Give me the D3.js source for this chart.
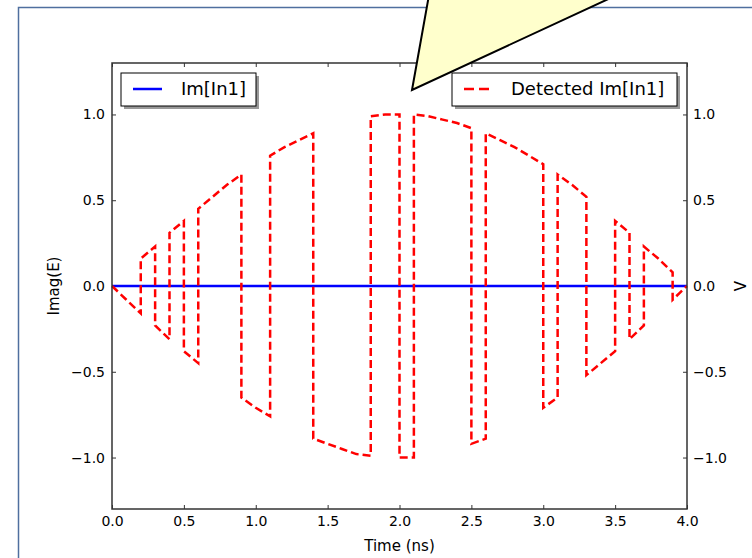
<!DOCTYPE html>
<html>
<head>
<meta charset="utf-8">
<script src="https://cdn.jsdelivr.net/npm/d3@7"></script>
<style>
  body { margin: 0; background: #fff; }
  .chart text { font-family: "DejaVu Sans", sans-serif; fill: #000; }
</style>
</head>
<body>
<div class="chart"></div>
<script>
// data
const xTicks = [0, 0.5, 1, 1.5, 2, 2.5, 3, 3.5, 4]
const yTicks = [-1, -0.5, 0, 0.5, 1]

const imTime = [0, 4]
const imValue = [0, 0]

// detected signal, the vertical jumps are repeated times
const detTime = [0, 0.1, 0.2, 0.2, 0.3, 0.3, 0.4, 0.4, 0.5, 0.5, 0.6, 0.6, 0.7, 0.8, 0.9, 0.9,
  1.0, 1.1, 1.1, 1.2, 1.3, 1.4, 1.4, 1.5, 1.6, 1.7, 1.8, 1.8, 1.9, 2.0, 2.0, 2.1, 2.1,
  2.2, 2.3, 2.4, 2.5, 2.5, 2.6, 2.6, 2.7, 2.8, 2.9, 3.0, 3.0, 3.1, 3.1, 3.2, 3.3, 3.3,
  3.4, 3.5, 3.5, 3.6, 3.6, 3.7, 3.7, 3.8, 3.9, 3.9, 4.0]
const detValue = [0, -0.08, -0.16, 0.16, 0.23, -0.23, -0.31, 0.31, 0.38, -0.38, -0.45, 0.45, 0.52, 0.59, 0.65, -0.65,
  -0.71, -0.76, 0.76, 0.81, 0.85, 0.89, -0.89, -0.92, -0.95, -0.98, -0.99, 0.99, 1.0, 1.0, -1.0, -1.0, 1.0,
  0.99, 0.97, 0.95, 0.92, -0.92, -0.89, 0.89, 0.85, 0.81, 0.76, 0.71, -0.71, -0.65, 0.65, 0.59, 0.52, -0.52,
  -0.45, -0.38, 0.38, 0.31, -0.31, -0.23, 0.23, 0.16, 0.08, -0.08, 0]

const margin = {top: 63, right: 65, bottom: 49, left: 112}
const W = 752, H = 558
const width = W - margin.left - margin.right
const height = H - margin.top - margin.bottom

const root = d3.select('.chart')
  .append('svg')
    .attr('width', W)
    .attr('height', H)

// outer slide frame
root.append('path')
  .attr('d', `M18.5,${H + 2} L18.5,7.5 L${W + 2},7.5`)
  .attr('fill', 'none')
  .attr('stroke', '#4f6f9f')
  .attr('stroke-width', 1.5)

const svg = root.append('g')
  .attr('transform', `translate(${margin.left}, ${margin.top})`)

const xScale = d3.scaleLinear().domain([0, 4]).range([0, width])
const yScale = d3.scaleLinear().domain([-1.3, 1.3]).range([height, 0])

const fmt = d3.format('.1f')

svg.append('g')
  .attr('transform', `translate(0, ${height})`)
  .call(d3.axisBottom(xScale).tickValues(xTicks).tickFormat(fmt).tickSizeInner(-4).tickSizeOuter(0).tickPadding(7))
svg.append('g')
  .call(d3.axisTop(xScale).tickValues(xTicks).tickFormat('').tickSizeInner(-4).tickSizeOuter(0))
svg.append('g')
  .call(d3.axisLeft(yScale).tickValues(yTicks).tickFormat(fmt).tickSizeInner(-4).tickSizeOuter(0).tickPadding(7))
svg.append('g')
  .attr('transform', `translate(${width}, 0)`)
  .call(d3.axisRight(yScale).tickValues(yTicks).tickFormat(fmt).tickSizeInner(-4).tickSizeOuter(0).tickPadding(6))

svg.selectAll('.domain').remove()
svg.selectAll('.tick line').attr('stroke', '#333')
svg.selectAll('.tick text').style('font-size', '14px').attr('fill', '#111')

// lines
const imLine = d3.line()
  .x((d, i) => xScale(imTime[i]))
  .y(d => yScale(d))
svg.append('path')
  .attr('d', imLine(imValue))
  .attr('fill', 'none')
  .attr('stroke', '#0000ff')
  .attr('stroke-width', 2.5)

const detLine = d3.line()
  .x((d, i) => xScale(detTime[i]))
  .y(d => yScale(d))
svg.append('path')
  .attr('d', detLine(detValue))
  .attr('fill', 'none')
  .attr('stroke', '#ff0000')
  .attr('stroke-width', 2.5)
  .attr('stroke-dasharray', '8,4')

// spines
svg.append('rect')
  .attr('width', width)
  .attr('height', height)
  .attr('fill', 'none')
  .attr('stroke', '#333')
  .attr('stroke-width', 1.5)

// axis labels
svg.append('text')
  .attr('x', width / 2)
  .attr('y', height + 42)
  .attr('text-anchor', 'middle')
  .style('font-size', '15px')
  .text('Time (ns)')
svg.append('text')
  .attr('transform', `translate(${54 - margin.left}, ${height / 2}) rotate(-90)`)
  .attr('text-anchor', 'middle')
  .attr('dy', '0.35em')
  .style('font-size', '15px')
  .text('Imag(E)')
svg.append('text')
  .attr('transform', `translate(${width + 54}, ${height / 2}) rotate(-90)`)
  .attr('text-anchor', 'middle')
  .attr('dy', '0.35em')
  .style('font-size', '15px')
  .text('V')

// legends
function legend(x, w, label, color, dash) {
  const g = svg.append('g').attr('transform', `translate(${x}, 10)`)
  g.append('rect')
    .attr('x', 3).attr('y', 3)
    .attr('width', w).attr('height', 33)
    .attr('fill', '#999')
  g.append('rect')
    .attr('width', w).attr('height', 33)
    .attr('fill', '#fff')
    .attr('stroke', '#000')
    .attr('stroke-width', 1)
  g.append('line')
    .attr('x1', 12).attr('x2', dash ? 38 : 41)
    .attr('y1', 16).attr('y2', 16)
    .attr('stroke', color)
    .attr('stroke-width', 2.5)
    .attr('stroke-dasharray', dash ? '10,5' : null)
  g.append('text')
    .attr('x', dash ? 59 : 60)
    .attr('y', 16)
    .attr('dy', '0.35em')
    .style('font-size', '18px')
    .attr('fill', '#111')
    .text(label)
}
legend(9, 135, 'Im[In1]', '#0000ff', false)
legend(340, 225, 'Detected Im[In1]', '#ff0000', true)

// callout pointer
root.append('path')
  .attr('d', 'M412,90 L429,-5 L617,-5 Z')
  .attr('fill', '#ffffcc')
  .attr('stroke', '#000')
  .attr('stroke-width', 2)
  .attr('stroke-linejoin', 'miter')
</script>
</body>
</html>
